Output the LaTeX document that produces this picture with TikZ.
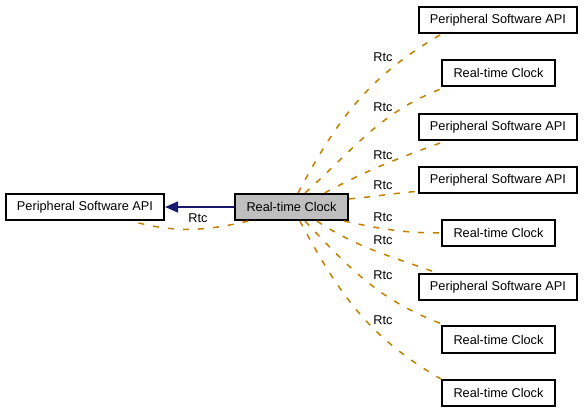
\documentclass[tikz,border=0pt]{standalone}
\usepackage{fontspec}
\setmainfont{Liberation Sans}
\usetikzlibrary{arrows.meta}
\definecolor{usecol}{RGB}{195,128,0}
\definecolor{inhcol}{RGB}{25,25,112}
\definecolor{curfill}{RGB}{191,191,191}
\tikzset{
  classbox/.style={rectangle, draw=black, line width=1.6pt, fill=white,
    minimum height=26.5pt, inner sep=0pt,
    font=\fontsize{12.75}{14}\selectfont},
  widebox/.style={classbox, minimum width=158.5pt},
  narrowbox/.style={classbox, minimum width=113.5pt},
  curbox/.style={narrowbox, fill=curfill},
  usage/.style={draw=usecol, line width=1.5pt, dash pattern=on 6pt off 9pt},
  inherit/.style={-{Triangle[length=13pt, width=11pt]}, draw=inhcol, line width=1.5pt},
  elabel/.style={font=\fontsize{12.75}{14}\selectfont, inner sep=0pt}
}

\begin{document}
\begin{tikzpicture}[x=1pt, y=-1pt]
\useasboundingbox (0,0) rectangle (584,413);

%% Left and current class
\node[widebox] (api)   at (85, 207)   {Peripheral Software API};
\node[curbox]  (clock) at (291.5, 207) {Real-time Clock};

%% Classes on the right
\node[widebox]   (a1) at (498, 20)    {Peripheral Software API};
\node[narrowbox] (c2) at (498.5, 73)  {Real-time Clock};
\node[widebox]   (a3) at (498, 127)   {Peripheral Software API};
\node[widebox]   (a4) at (498, 180)   {Peripheral Software API};
\node[narrowbox] (c5) at (498.5, 233) {Real-time Clock};
\node[widebox]   (a6) at (498, 287)   {Peripheral Software API};
\node[narrowbox] (c7) at (498.5, 339.5) {Real-time Clock};
\node[narrowbox] (c8) at (498.5, 393) {Real-time Clock};

%% ── Real-time Clock → Peripheral Software API
\draw[inherit] (clock.west) -- (api.east);
\draw[usage] (clock.198) to[out=193, in=-15] (api.-17)
  node[elabel] at (198, 218) {Rtc};

%% ── Real-time Clock → right side
\draw[usage] (clock.65) to[out=62, in=210] (a1.194)
  node[elabel] at (383, 57) {Rtc};
\draw[usage] (clock.46) to[out=42, in=200] (c2.195)
  node[elabel] at (383, 107) {Rtc};
\draw[usage] (clock.23) to[out=28, in=200] (a3.195)
  node[elabel] at (383, 155) {Rtc};
\draw[usage] (clock.8) to[out=5, in=185] (a4.188)
  node[elabel] at (383, 185) {Rtc};
\draw[usage] (clock.-15) to[out=-12, in=180] (c5.west)
  node[elabel] at (383, 217) {Rtc};
\draw[usage] (clock.-29) to[out=-33, in=160] (a6.167)
  node[elabel] at (383, 240) {Rtc};
\draw[usage] (clock.-46) to[out=-47, in=160] (c7.165)
  node[elabel] at (383, 275) {Rtc};
\draw[usage] (clock.-59) to[out=-62, in=150] (c8.north west)
  node[elabel] at (383, 320) {Rtc};

\end{tikzpicture}
\end{document}
